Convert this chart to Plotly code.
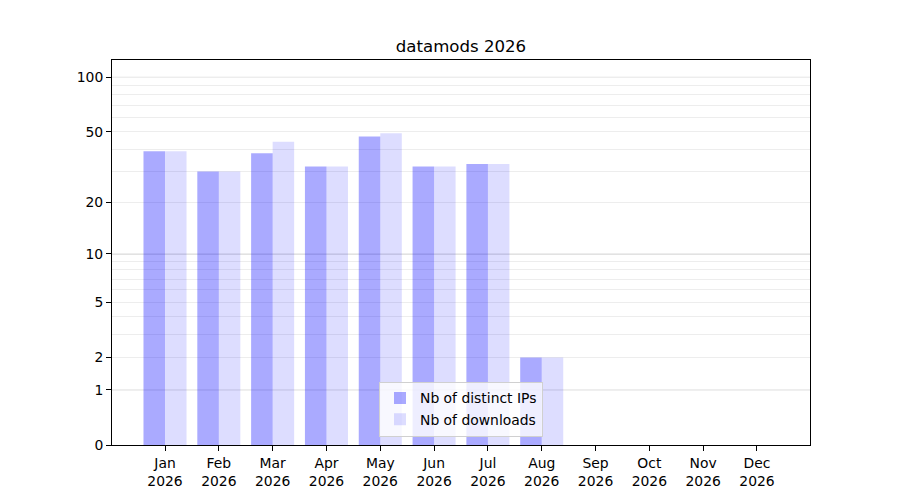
import math
import plotly.graph_objects as go

months = ["Jan", "Feb", "Mar", "Apr", "May", "Jun", "Jul", "Aug", "Sep", "Oct", "Nov", "Dec"]
year = "2026"
distinct_ips = [39, 30, 38, 32, 47, 32, 33, 2, 0, 0, 0, 0]
downloads = [39, 30, 44, 32, 49, 32, 33, 2, 0, 0, 0, 0]

# y axis shows log10(1 + value); values offset by 1 on a log axis
tick_labels = [0, 1, 2, 5, 10, 20, 50, 100]
major_grid = [1, 10, 100]
minor_grid = [3, 4, 6, 7, 8, 9, 30, 40, 60, 70, 80, 90]
y_top = 125.6

FONT = "DejaVu Sans, Verdana, sans-serif"

x_labels = [f"{m}<br>{year}" for m in months]

fig = go.Figure()
fig.add_trace(go.Bar(
    x=x_labels, y=distinct_ips, base=1, name="Nb of distinct IPs",
    marker=dict(color="rgba(0,0,255,0.333)", line=dict(width=0)),
))
fig.add_trace(go.Bar(
    x=x_labels, y=downloads, base=1, name="Nb of downloads",
    marker=dict(color="rgba(0,0,255,0.135)", line=dict(width=0)),
))

shapes = []
for g in major_grid:
    shapes.append(dict(type="line", xref="paper", yref="y", x0=0, x1=1,
                       y0=g + 1, y1=g + 1, layer="below",
                       line=dict(color="#c4c4c4", width=1)))

L, R, T, B = 104, 98, 52, 63
fig.update_layout(
    width=900, height=500,
    margin=dict(l=L, r=R, t=T, b=B),
    paper_bgcolor="white", plot_bgcolor="white",
    font=dict(family=FONT, size=13.9, color="black"),
    title=dict(text="datamods 2026", x=(L + (900 - R)) / 2 / 900, xanchor="center",
               y=1 - 38 / 500, yanchor="middle", yref="container",
               font=dict(size=16.6, family=FONT, color="black")),
    barmode="group", bargap=0.2, bargroupgap=0,
    shapes=shapes,
    showlegend=True,
    legend=dict(x=0.5, xanchor="center", y=0.022, yanchor="bottom",
                bgcolor="rgba(255,255,255,0.8)", bordercolor="#d0d0d0", borderwidth=1,
                font=dict(size=13.9, family=FONT), tracegroupgap=0,
                itemwidth=30),
    xaxis=dict(
        range=[-0.985, 11.985], showgrid=False, showline=True, linecolor="black",
        linewidth=1, mirror=True, ticks="outside", ticklen=5, tickcolor="black",
        tickfont=dict(size=13.9, family=FONT),
    ),
    yaxis=dict(
        type="log", range=[0, math.log10(y_top)],
        tickvals=[t + 1 for t in tick_labels], ticktext=[str(t) for t in tick_labels],
        showgrid=True, gridcolor="#ededed", gridwidth=1,
        minor=dict(tickvals=[t + 1 for t in minor_grid], showgrid=True,
                   gridcolor="#ededed", gridwidth=1, ticks=""),
        showline=True, linecolor="black", linewidth=1, mirror=True,
        ticks="outside", ticklen=5, tickcolor="black",
        tickfont=dict(size=13.9, family=FONT), zeroline=False,
    ),
)

fig.write_html("out.html")
